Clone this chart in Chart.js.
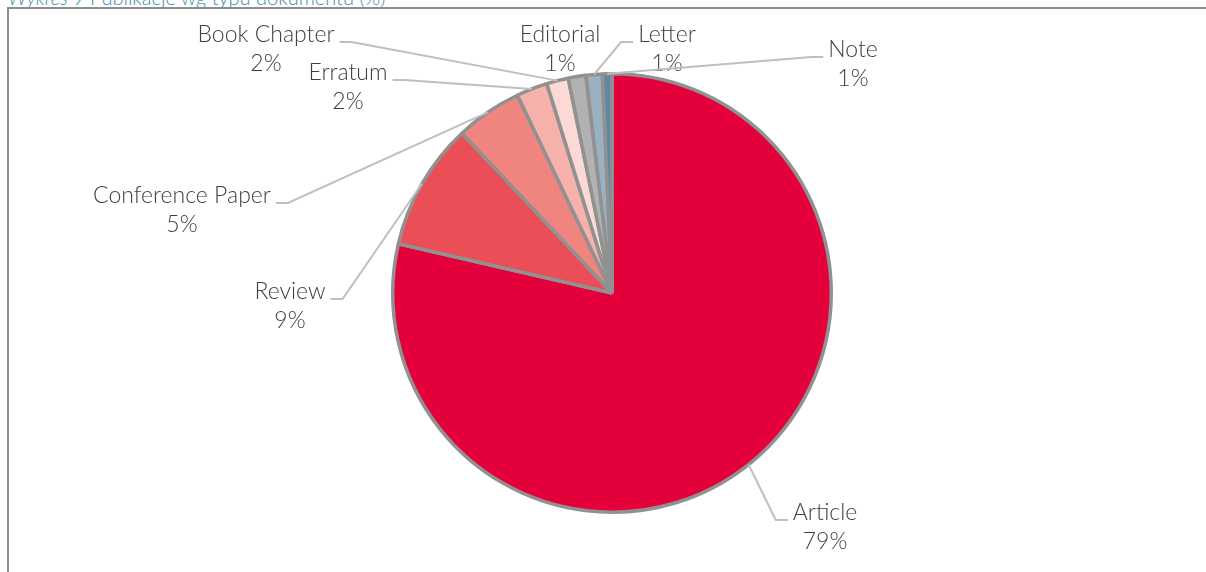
<!DOCTYPE html>
<html>
<head>
<meta charset="utf-8">
<script src="https://cdn.jsdelivr.net/npm/chart.js@4.4.1/dist/chart.umd.min.js"></script>
<style>
  html, body { margin: 0; padding: 0; background: #ffffff; width: 1206px; height: 572px; overflow: hidden; }
  #title { position: absolute; left: 8px; top: -15px; font-family: Lato, "Open Sans", sans-serif; font-weight: 300; font-size: 20px; color: #3C8EA3; white-space: nowrap; }
  #title i { font-style: italic; }
  #frame { position: absolute; left: 7px; top: 7px; width: 1300px; height: 700px; border-left: 2px solid #8C8C8C; border-top: 2px solid #8C8C8C; box-sizing: border-box; }
  #wrap { position: absolute; left: 0; top: 0; width: 1206px; height: 572px; }
</style>
</head>
<body>
<div id="title"><i>Wykres 9</i> Publikacje wg typu dokumentu (%)</div>
<div id="frame"></div>
<div id="wrap"><canvas id="c" width="1206" height="572"></canvas></div>
<script>
// ---- data ----
const categories = ["Article", "Review", "Conference Paper", "Erratum", "Book Chapter", "Editorial", "Letter", "Note"];
const shares = [78.6, 9.4, 4.9, 2.3, 1.6, 1.3, 1.2, 0.7];
const shareLabels = ["79%", "9%", "5%", "2%", "2%", "1%", "1%", "1%"];
const sliceColors = ["#E4003A", "#EA4F58", "#F0857F", "#F6B2AA", "#FCD9D4", "#B2B2B2", "#9BB1C2", "#5F89A2"];

// ---- label layout (offsets from pie centre; baseline of first line) ----
const labelLayout = [
  { dx: 213, dy: 227, side: "left" },    // Article
  { dx: -322, dy: 6, side: "right" },    // Review
  { dx: -430, dy: -90, side: "right" },  // Conference Paper
  { dx: -264, dy: -213, side: "right" }, // Erratum
  { dx: -346, dy: -251, side: "right" }, // Book Chapter
  { dx: -52, dy: -251, side: "none" },   // Editorial
  { dx: 55, dy: -251, side: "left" },    // Letter
  { dx: 241, dy: -236, side: "left" }    // Note
];

const labelFont = '300 23px Lato, "Open Sans", sans-serif';
const lineGap = 29;

const labelPlugin = {
  id: "leaderLabels",
  afterDatasetsDraw(chart) {
    const ctx = chart.ctx;
    const meta = chart.getDatasetMeta(0);
    ctx.save();
    ctx.font = labelFont;
    meta.data.forEach((arc, i) => {
      const p = arc.getProps(["x", "y", "startAngle", "endAngle", "outerRadius"], true);
      const lay = labelLayout[i];
      const tx = p.x + lay.dx, ty = p.y + lay.dy;
      const name = categories[i];
      const w = ctx.measureText(name).width;
      if (lay.side !== "none") {
        const mid = (p.startAngle + p.endAngle) / 2;
        const ax = p.x + Math.cos(mid) * p.outerRadius;
        const ay = p.y + Math.sin(mid) * p.outerRadius;
        let sx, ex;
        if (lay.side === "right") { sx = tx + w / 2 + 5; ex = sx + 12; }
        else { sx = tx - w / 2 - 5; ex = sx - 12; }
        ctx.beginPath();
        ctx.strokeStyle = "#BFBFBF";
        ctx.lineWidth = 2;
        ctx.moveTo(sx, ty);
        ctx.lineTo(ex, ty);
        ctx.lineTo(ax, ay);
        ctx.stroke();
      }
      ctx.fillStyle = "#404040";
      ctx.textAlign = "center";
      ctx.textBaseline = "alphabetic";
      ctx.fillText(name, tx, ty);
      ctx.fillText(shareLabels[i], tx, ty + lineGap);
    });
    ctx.restore();
  }
};

new Chart(document.getElementById("c"), {
  type: "pie",
  data: {
    labels: categories,
    datasets: [{
      data: shares,
      backgroundColor: sliceColors,
      borderColor: "#919191",
      borderWidth: 3.5,
      hoverOffset: 0
    }]
  },
  options: {
    responsive: false,
    animation: false,
    devicePixelRatio: 1,
    layout: { padding: { left: 391, right: 373, top: 72, bottom: 58 } },
    plugins: {
      legend: { display: false },
      tooltip: { enabled: false },
      title: { display: false }
    },
    events: []
  },
  plugins: [labelPlugin]
});
</script>
</body>
</html>
